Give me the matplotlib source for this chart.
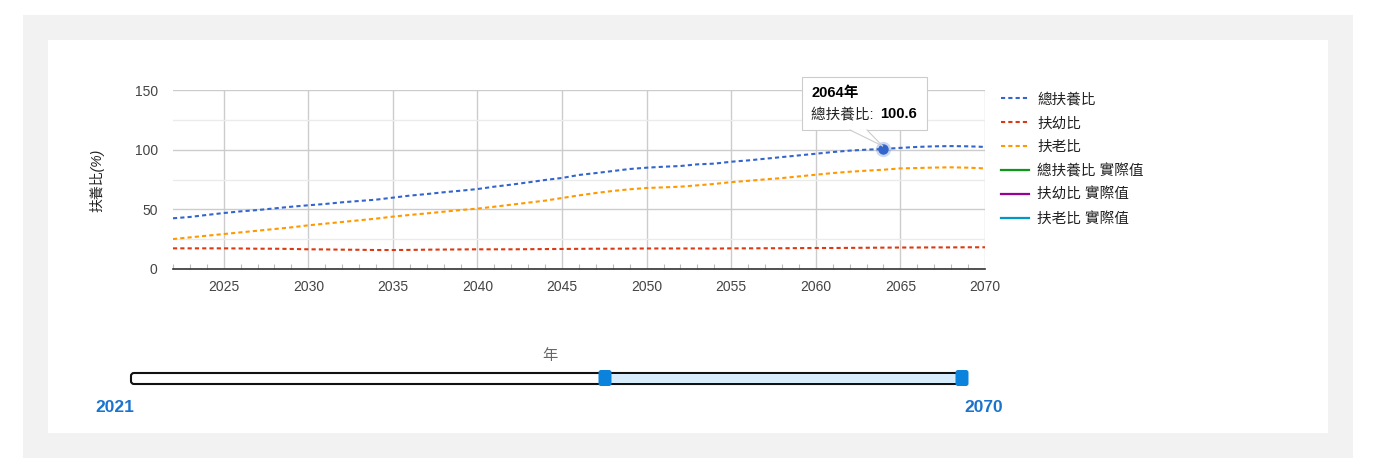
import matplotlib
matplotlib.use("Agg")
import matplotlib.pyplot as plt
from matplotlib.patches import Rectangle, FancyBboxPatch, Polygon
from matplotlib.ticker import MultipleLocator

FONT = ['Liberation Sans', 'Noto Sans CJK TC', 'DejaVu Sans']
plt.rcParams['font.family'] = FONT

# ---------------- data ----------------
years = list(range(2022, 2071))
total_dep = [42.5, 43.6, 45.3, 46.9, 48.3, 49.4, 50.8, 52.2, 53.4, 54.5,
             55.9, 57.0, 58.1, 59.8, 61.5, 62.8, 64.3, 65.6, 67.0, 69.0,
             70.7, 72.6, 74.6, 76.3, 78.8, 80.4, 82.1, 83.8, 84.9, 85.7,
             86.3, 87.7, 88.3, 89.9, 91.0, 92.4, 93.8, 95.2, 96.6, 98.0,
             99.2, 100.0, 100.6, 101.5, 102.3, 102.8, 103.0, 102.8, 102.3]
young_dep = [17.3, 17.3, 17.3, 17.3, 17.2, 17.0, 17.0, 16.8, 16.5, 16.4,
             16.2, 16.1, 15.9, 15.9, 16.0, 16.2, 16.3, 16.4, 16.5, 16.5,
             16.5, 16.6, 16.7, 16.8, 16.9, 17.0, 17.0, 17.1, 17.2, 17.2,
             17.2, 17.2, 17.1, 17.3, 17.3, 17.4, 17.4, 17.5, 17.6, 17.6,
             17.7, 17.8, 17.9, 18.0, 18.0, 18.1, 18.1, 18.2, 18.2]
old_dep = [25.1, 26.5, 27.9, 29.3, 30.7, 32.1, 33.5, 34.9, 36.6, 38.0,
           39.4, 40.8, 42.2, 43.9, 45.3, 46.6, 48.0, 49.4, 50.6, 52.2,
           53.9, 55.6, 57.3, 59.5, 61.7, 63.7, 65.4, 66.8, 67.9, 68.4,
           69.0, 70.1, 71.3, 72.8, 73.9, 75.1, 76.2, 77.6, 79.0, 80.4,
           81.5, 82.4, 83.2, 84.3, 84.6, 85.0, 85.2, 84.9, 84.3]
series_names = ['總扶養比', '扶幼比', '扶老比', '總扶養比 實際值', '扶幼比 實際值', '扶老比 實際值']
series_colors = ['#3366cc', '#dc3912', '#ff9900', '#109618', '#990099', '#0099c6']
x_ticks = [2025, 2030, 2035, 2040, 2045, 2050, 2055, 2060, 2065, 2070]
y_ticks = [0, 50, 100, 150]
y_label = '扶養比(%)'
hl_year, hl_value = 2064, 100.6
slider_min, slider_max = 2021, 2070
slider_label = '年'

# ---------------- figure ----------------
W, H = 1392, 471
fig = plt.figure(figsize=(W / 100, H / 100), dpi=100)
fig.patch.set_facecolor('white')

def fx(px):
    return px / W

def fy(py):
    return 1 - py / H

# background overlay axes (pixel coordinates, y down)
bg = fig.add_axes([0, 0, 1, 1], zorder=-5)
bg.set_xlim(0, W); bg.set_ylim(H, 0); bg.axis('off')
bg.add_patch(Rectangle((23, 15), 1330, 443, facecolor='#f2f2f2', edgecolor='none'))
bg.add_patch(Rectangle((48, 40), 1280, 393, facecolor='white', edgecolor='none'))

# main axes
ax = fig.add_axes([fx(173), fy(269), fx(985 - 173), (269 - 90) / H], zorder=1)
ax.set_facecolor('none')
ax.set_xlim(2022, 2070)
ax.set_ylim(0, 150)

ax.set_xticks(x_ticks)
ax.set_yticks(y_ticks)
ax.xaxis.set_minor_locator(MultipleLocator(1))
ax.yaxis.set_minor_locator(MultipleLocator(25))
ax.grid(True, which='major', color='#cccccc', linewidth=1.0, zorder=0)
ax.grid(True, which='minor', axis='y', color='#ebebeb', linewidth=1.0, zorder=0)
ax.tick_params(axis='both', which='major', length=0, labelsize=10, labelcolor='#444444')
ax.tick_params(axis='x', which='major', pad=8)
ax.tick_params(axis='y', which='major', pad=11)
ax.tick_params(axis='x', which='minor', direction='in', length=3.5, width=0.8, color='#bbbbbb')
ax.tick_params(axis='y', which='minor', length=0)
for s in ['left', 'top', 'right']:
    ax.spines[s].set_visible(False)
ax.spines['bottom'].set_color('#333333')
ax.spines['bottom'].set_linewidth(1.2)
ax.spines['bottom'].set_zorder(3)

dash = (2.0, 1.5)
values = [total_dep, young_dep, old_dep]
handles = []
for i in range(3):
    ln, = ax.plot(years, values[i], color=series_colors[i], linewidth=1.5,
                  dashes=dash, zorder=4, label=series_names[i])
    handles.append(ln)
for i in range(3, 6):
    ln, = ax.plot([], [], color=series_colors[i], linewidth=1.6, label=series_names[i])
    handles.append(ln)

# highlighted point
ax.plot([hl_year], [hl_value], 'o', color=series_colors[0], markersize=11,
        alpha=0.25, markeredgewidth=0, zorder=5)
ax.plot([hl_year], [hl_value], 'o', color=series_colors[0], markersize=7.5,
        markeredgewidth=0, zorder=6)

# y label
fig.text(fx(97), fy(180), y_label, rotation=90, ha='center', va='center',
         fontsize=10, color='#222222', style='italic', family=FONT)

# legend
leg = fig.legend(handles=handles, labels=series_names, loc='upper left',
                 bbox_to_anchor=(fx(1001), fy(92.5)), frameon=False,
                 fontsize=10.5, handlelength=1.92, handletextpad=0.55,
                 labelspacing=0.67, borderpad=0, borderaxespad=0)
for t in leg.get_texts():
    t.set_color('#222222')

# foreground overlay (pixel coords, y down)
fg = fig.add_axes([0, 0, 1, 1], zorder=10)
fg.set_xlim(0, W); fg.set_ylim(H, 0); fg.axis('off')
fg.patch.set_alpha(0)

# tooltip
fig.canvas.draw()
dpx, dpy = ax.transData.transform((hl_year, hl_value))
tipx, tipy = dpx, H - dpy
bx0, by0, bx1, by1 = 802, 77, 927, 130
fg.add_patch(Rectangle((bx0 + 1, by0 + 1), bx1 - bx0, by1 - by0,
                       facecolor='#000000', alpha=0.08, edgecolor='none'))
fg.add_patch(Rectangle((bx0, by0), bx1 - bx0, by1 - by0,
                       facecolor='white', edgecolor='#cccccc', linewidth=0.8))
fg.add_patch(Polygon([(850, by1 - 0.5), (867, by1 - 0.5), (tipx - 1, tipy - 3)],
                     closed=True, facecolor='white', edgecolor='none', zorder=3))
fg.plot([850, tipx - 1], [by1, tipy - 3], color='#cccccc', linewidth=0.8, zorder=4)
fg.plot([867, tipx - 1], [by1, tipy - 3], color='#cccccc', linewidth=0.8, zorder=4)
fg.text(811, 93, f'{hl_year}年', fontsize=10.5, fontweight='bold', color='black',
        ha='left', va='center')
fg.text(811, 114, f'{series_names[0]}: ', fontsize=10.5, color='#222222',
        ha='left', va='center')
fg.text(880, 114, f'{hl_value}', fontsize=10.5, fontweight='bold', color='black',
        ha='left', va='center')

# slider
tx0, tx1, ty0, ty1 = 131, 962, 373, 384
hl = 605
fg.add_patch(FancyBboxPatch((tx0, ty0), tx1 - tx0, ty1 - ty0,
                            boxstyle='round,pad=0,rounding_size=3',
                            facecolor='white', edgecolor='#111111', linewidth=1.5))
fg.add_patch(Rectangle((hl, ty0 + 1), tx1 - hl, ty1 - ty0 - 2,
                       facecolor='#d6ecfb', edgecolor='none'))
for hx in [hl, tx1]:
    fg.add_patch(FancyBboxPatch((hx - 6.5, 370), 13, 16,
                                boxstyle='round,pad=0,rounding_size=2.5',
                                facecolor='#0b83dd', edgecolor='none', zorder=5))
fg.text(550, 356, slider_label, fontsize=11, color='#666666', ha='center', va='center')
fg.text(115, 407, str(slider_min), fontsize=12.5, fontweight='bold', color='#1a73cc',
        ha='center', va='center')
fg.text(984, 407, str(slider_max), fontsize=12.5, fontweight='bold', color='#1a73cc',
        ha='center', va='center')

fig.savefig('out.png', dpi=100)
